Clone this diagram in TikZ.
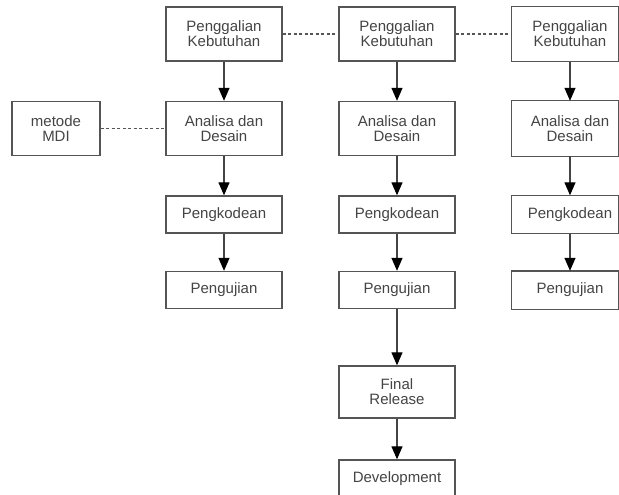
\documentclass[tikz,border=0pt]{standalone}
\usepackage{fontspec}
\setmainfont{Liberation Sans}
\usetikzlibrary{arrows.meta}
\definecolor{edge}{HTML}{555555}
\definecolor{ink}{HTML}{444444}
\tikzset{
  stepbox/.style={draw=edge, line width=1.4pt, rectangle, minimum width=116pt,
    inner sep=0pt, align=center, text=ink,
    font=\fontsize{15pt}{15pt}\selectfont},
  tall/.style={minimum height=54pt},
  short/.style={minimum height=37pt},
  open/.style={draw=none},
  frame/.style={draw=edge, line width=1.4pt},
  flow/.style={draw=ink, line width=1.3pt, -{Triangle[length=13pt,width=11pt,color=black]}},
  link/.style={draw=edge, line width=1.4pt, dash pattern=on 3pt off 2.5pt}
}
\begin{document}
\begin{tikzpicture}[x=1pt,y=-1pt]
\useasboundingbox (0,0) rectangle (619,495);
\clip (0,0) rectangle (619,495);

% left column
\node[stepbox,tall]  (l1) at (224,34)    {Penggalian\\Kebutuhan};
\node[stepbox,tall]  (l2) at (224,128.5) {Analisa dan\\Desain};
\node[stepbox,short] (l3) at (224,214.5) {Pengkodean};
\node[stepbox,short] (l4) at (224,290)   {Pengujian};

% side note
\node[stepbox,tall,minimum width=88pt] (mdi) at (56,128.5) {metode\\MDI};

% middle column
\node[stepbox,tall]  (m1) at (397,34)    {Penggalian\\Kebutuhan};
\node[stepbox,tall]  (m2) at (397,128.5) {Analisa dan\\Desain};
\node[stepbox,short] (m3) at (397,214.5) {Pengkodean};
\node[stepbox,short] (m4) at (397,290)   {Pengujian};
\node[stepbox,tall,minimum height=52pt] (m5) at (397,392) {Final\\Release};
\node[stepbox,short] (m6) at (397,478.5) {Development};

% right column: boxes end at the right margin
\node[stepbox,tall,open]  (r1) at (570,34)    {Penggalian\\Kebutuhan};
\node[stepbox,tall,open]  (r2) at (570,128.5) {Analisa dan\\Desain};
\node[stepbox,short,open] (r3) at (570,214.5) {Pengkodean};
\node[stepbox,short,open] (r4) at (570,290)   {Pengujian};
\foreach \n in {r1,r2,r3,r4}
  \draw[frame] (\n.north west) rectangle ([xshift=-0.7pt]\n.south west -| 619,0);

% flow arrows
\draw[flow] (l1) -- (l2);
\draw[flow] (l2) -- (l3);
\draw[flow] (l3) -- (l4);
\draw[flow] (m1) -- (m2);
\draw[flow] (m2) -- (m3);
\draw[flow] (m3) -- (m4);
\draw[flow] (m4) -- (m5);
\draw[flow] (m5) -- (m6);
\draw[flow] (r1) -- (r2);
\draw[flow] (r2) -- (r3);
\draw[flow] (r3) -- (r4);

% dotted links
\draw[link] (l1) -- (m1);
\draw[link] (m1) -- (r1);
\draw[link] (mdi) -- (l2);
\end{tikzpicture}
\end{document}
